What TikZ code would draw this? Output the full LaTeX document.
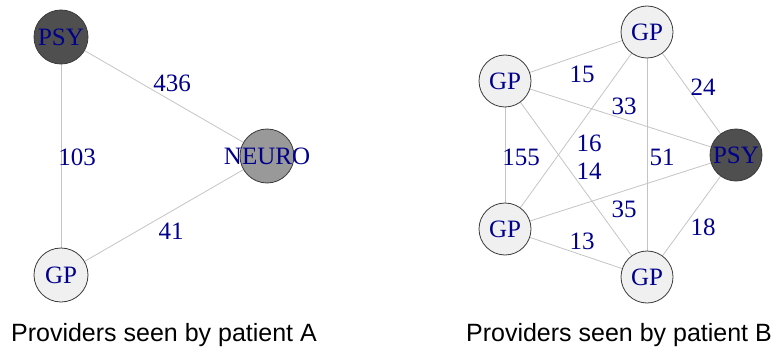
\documentclass[tikz,border=0pt]{standalone}
\usepackage{fontspec}
\setmainfont{Liberation Serif}
\newfontfamily\titlefont{Liberation Sans}
\definecolor{edgegray}{HTML}{C4C4C4}
\definecolor{labblue}{HTML}{00008B}
\definecolor{psyfill}{HTML}{4F4F4F}
\definecolor{neurofill}{HTML}{999999}
\definecolor{gpfill}{HTML}{F0F0F0}
\definecolor{bordergray}{HTML}{3A3A3A}
\begin{document}
\begin{tikzpicture}[x=1pt,y=1pt,
  vert/.style={circle,draw=bordergray,line width=0.8pt,minimum size=54pt,inner sep=0pt,
    label={[text=labblue,inner sep=0pt,font=\fontsize{25}{28}\selectfont]center:#1}},
  psy/.style={vert=#1,fill=psyfill},
  neuro/.style={vert=#1,fill=neurofill},
  gp/.style={vert=#1,fill=gpfill},
  vertB/.style={minimum size=52pt},
  edge/.style={draw=edgegray,line width=0.8pt},
  elab/.style={text=labblue,inner sep=0pt,font=\fontsize{25}{28}\selectfont},
  ttl/.style={anchor=base,inner sep=0pt,font=\titlefont\fontsize{25}{28}\selectfont}]
\useasboundingbox (0,0) rectangle (775,346);
% Panel A
\coordinate (cA1) at (61,309);
\coordinate (cA2) at (267,190);
\coordinate (cA3) at (61,71);
\draw[edge] (cA1) -- (cA2);
\draw[edge] (cA1) -- (cA3);
\draw[edge] (cA3) -- (cA2);
\node[psy=PSY] (a1) at (cA1) {};
\node[neuro=NEURO] (a2) at (cA2) {};
\node[gp=GP] (a3) at (cA3) {};
\node[elab] (l436) at (172,263) {436};
\node[elab] (l103) at (77,189) {103};
\node[elab] (l41) at (171,115) {41};
\node[ttl] (tA) at (164,5) {Providers seen by patient A};
% Panel B
\coordinate (cB1) at (647,314);
\coordinate (cB2) at (505,265);
\coordinate (cB3) at (736,191);
\coordinate (cB4) at (505,117);
\coordinate (cB5) at (647,69);
\draw[edge] (cB1) -- (cB2);
\draw[edge] (cB1) -- (cB3);
\draw[edge] (cB2) -- (cB3);
\draw[edge] (cB1) -- (cB4);
\draw[edge] (cB2) -- (cB4);
\draw[edge] (cB1) -- (cB5);
\draw[edge] (cB2) -- (cB5);
\draw[edge] (cB4) -- (cB3);
\draw[edge] (cB3) -- (cB5);
\draw[edge] (cB4) -- (cB5);
\node[gp=GP,vertB] (b1) at (cB1) {};
\node[gp=GP,vertB] (b2) at (cB2) {};
\node[psy=PSY,vertB] (b3) at (cB3) {};
\node[gp=GP,vertB] (b4) at (cB4) {};
\node[gp=GP,vertB] (b5) at (cB5) {};
\node[elab] (l15) at (582,272) {15};
\node[elab] (l24) at (703,259) {24};
\node[elab] (l33) at (624,240) {33};
\node[elab] (l16) at (589,203) {16};
\node[elab] (l155) at (521,189) {155};
\node[elab] (l51) at (662,189) {51};
\node[elab] (l14) at (589,175) {14};
\node[elab] (l35) at (624,137) {35};
\node[elab] (l18) at (703,119) {18};
\node[elab] (l13) at (582,105) {13};
\node[ttl] (tB) at (619,5) {Providers seen by patient B};
\end{tikzpicture}
\end{document}
